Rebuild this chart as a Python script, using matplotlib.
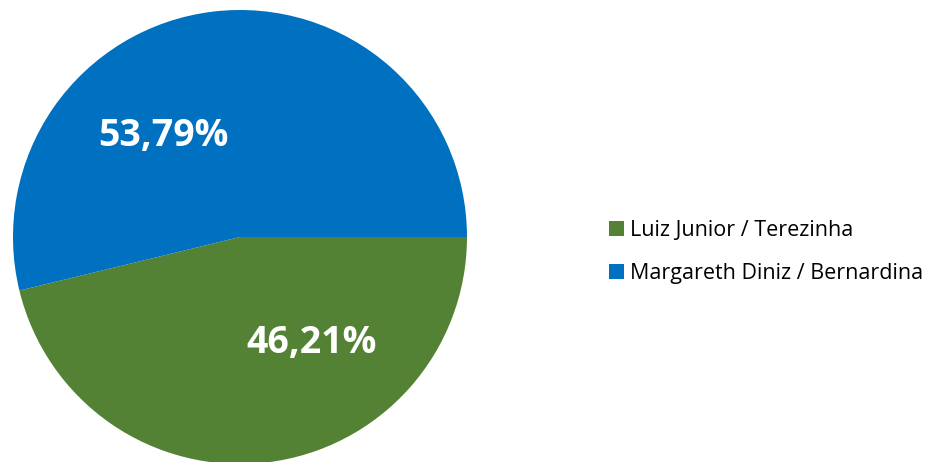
import matplotlib.pyplot as plt
from matplotlib.patches import Patch

labels = ['Luiz Junior / Terezinha', 'Margareth Diniz / Bernardina']
values = [46.21, 53.79]
colors = ['#548235', '#0070C0']

# label anchor spots (in pie-radius units), as Excel put them
label_pos = [(0.317, -0.467), (-0.339, 0.445)]

plt.rcParams['font.family'] = ['Open Sans', 'DejaVu Sans']

fig = plt.figure(figsize=(9.49, 4.62), dpi=100)
ax = fig.add_axes([13 / 949, -2 / 462, 454 / 949, 454 / 462])
wedges, _ = ax.pie(values, colors=colors, startangle=0, counterclock=False,
                   radius=1, wedgeprops=dict(linewidth=0))
ax.set_xlim(-1, 1)
ax.set_ylim(-1, 1)
ax.set_aspect('equal')
ax.axis('off')

for v, (x, y) in zip(values, label_pos):
    ax.text(x, y, f'{v:.2f}%'.replace('.', ','), ha='center', va='center',
            color='white', fontsize=27, fontweight='bold')

handles = [Patch(facecolor=c, edgecolor='none') for c in colors]
fig.legend(handles, labels, loc='center left', bbox_to_anchor=(600 / 949, 1 - 252 / 462),
           frameon=False, fontsize=15.5, handlelength=0.7, handleheight=0.7,
           handletextpad=0.3, labelspacing=1.0, borderaxespad=0)

fig.savefig('out.png', dpi=100)
